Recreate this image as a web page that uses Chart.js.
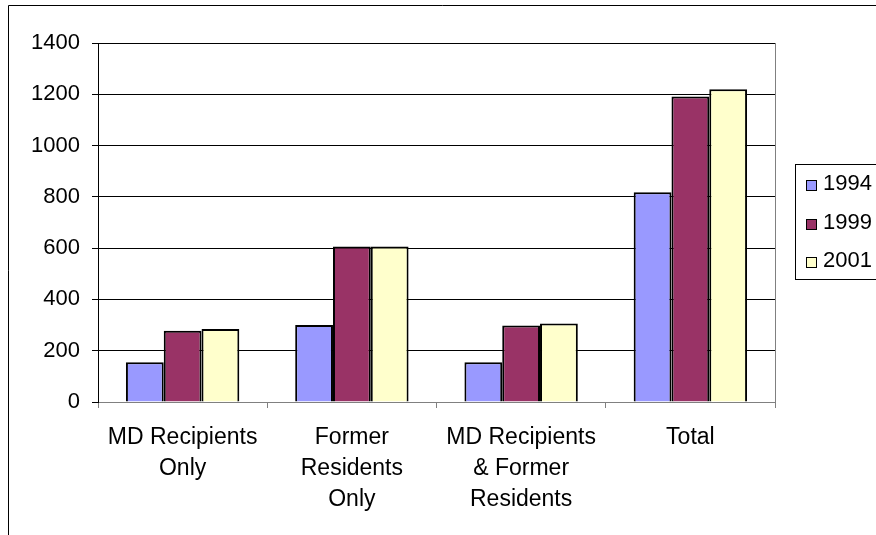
<!DOCTYPE html>
<html>
<head>
<meta charset="utf-8">
<script src="https://cdn.jsdelivr.net/npm/chart.js@4/dist/chart.umd.min.js"></script>
<style>
  html, body { margin: 0; padding: 0; background: #fff; overflow: hidden; }
  #wrap { width: 876px; height: 535px; position: relative; }
</style>
</head>
<body>
<div id="wrap"><canvas id="c" width="876" height="535"></canvas></div>
<script>
const categories = [
  ["MD Recipients", "Only"],
  ["Former", "Residents", "Only"],
  ["MD Recipients", "& Former", "Residents"],
  ["Total"]
];
const years = ["1994", "1999", "2001"];
const values1994 = [155, 300, 155, 818];
const values1999 = [278, 606, 298, 1191];
const values2001 = [285, 606, 306, 1220];
const yTicks = [0, 200, 400, 600, 800, 1000, 1200, 1400];

const colors = ["#9999FF", "#993366", "#FFFFCC"];
const FONT = "'Liberation Sans', Arial, sans-serif";

const framePlugin = {
  id: 'frame',
  beforeDraw(chart) {
    const ctx = chart.ctx;
    ctx.save();
    ctx.fillStyle = '#fff';
    ctx.fillRect(0, 0, chart.width, chart.height);
    ctx.strokeStyle = '#000';
    ctx.lineWidth = 1;
    ctx.beginPath();
    ctx.moveTo(8.5, chart.height + 2);
    ctx.lineTo(8.5, 5.5);
    ctx.lineTo(chart.width + 2, 5.5);
    ctx.stroke();
    ctx.restore();
  },
  afterDatasetsDraw(chart) {
    const ctx = chart.ctx, a = chart.chartArea;
    ctx.save();
    ctx.strokeStyle = '#808080';
    ctx.lineWidth = 1;
    ctx.beginPath();
    ctx.moveTo(Math.round(a.right) + 0.5, a.top);
    ctx.lineTo(Math.round(a.right) + 0.5, a.bottom);
    ctx.stroke();
    ctx.restore();
  },
  afterDraw(chart) {
    const ctx = chart.ctx;
    ctx.save();
    ctx.strokeStyle = '#000';
    ctx.lineWidth = 1;
    ctx.strokeRect(795.5, 164.5, 100, 115);
    ctx.font = "22px " + FONT;
    ctx.textBaseline = 'middle';
    ctx.textAlign = 'left';
    chart.data.datasets.forEach((ds, i) => {
      const cy = 185 + 38.5 * i;
      const sy = Math.round(cy - 5) + 0.5;
      ctx.fillStyle = ds.backgroundColor;
      ctx.fillRect(806.5, sy, 10, 10);
      ctx.strokeRect(806.5, sy, 10, 10);
      ctx.fillStyle = '#000';
      ctx.fillText(ds.label, 823, cy - 1);
    });
    ctx.restore();
  }
};

new Chart(document.getElementById('c'), {
  type: 'bar',
  data: {
    labels: categories,
    datasets: [
      { label: years[0], data: values1994, backgroundColor: colors[0] },
      { label: years[1], data: values1999, backgroundColor: colors[1] },
      { label: years[2], data: values2001, backgroundColor: colors[2] }
    ].map(d => Object.assign(d, { borderColor: '#000', borderWidth: 2, categoryPercentage: 0.67, barPercentage: 1.0 }))
  },
  options: {
    responsive: false,
    animation: false,
    devicePixelRatio: 1,
    layout: { padding: { left: 8, top: 43, right: 101, bottom: 0 } },
    plugins: { legend: { display: false }, tooltip: { enabled: false }, title: { display: false } },
    scales: {
      x: {
        afterFit(s) { s.height = 133; },
        grid: { display: true, drawOnChartArea: false, drawTicks: true, tickLength: 6, color: '#808080', offset: true },
        border: { display: true, color: '#808080', width: 1 },
        ticks: { color: '#000', font: { family: FONT, size: 23, lineHeight: 1.35 }, padding: 14, maxRotation: 0, autoSkip: false }
      },
      y: {
        min: 0, max: 1400,
        afterFit(s) { s.width = 90; },
        afterBuildTicks(s) { s.ticks = yTicks.map(v => ({ value: v })); },
        grid: { color: '#000', lineWidth: 1, drawTicks: true, tickLength: 6 },
        border: { display: true, color: '#000', width: 1 },
        ticks: { color: '#000', font: { family: FONT, size: 22 }, padding: 12, callback: v => String(v) }
      }
    }
  },
  plugins: [framePlugin]
});
</script>
</body>
</html>
